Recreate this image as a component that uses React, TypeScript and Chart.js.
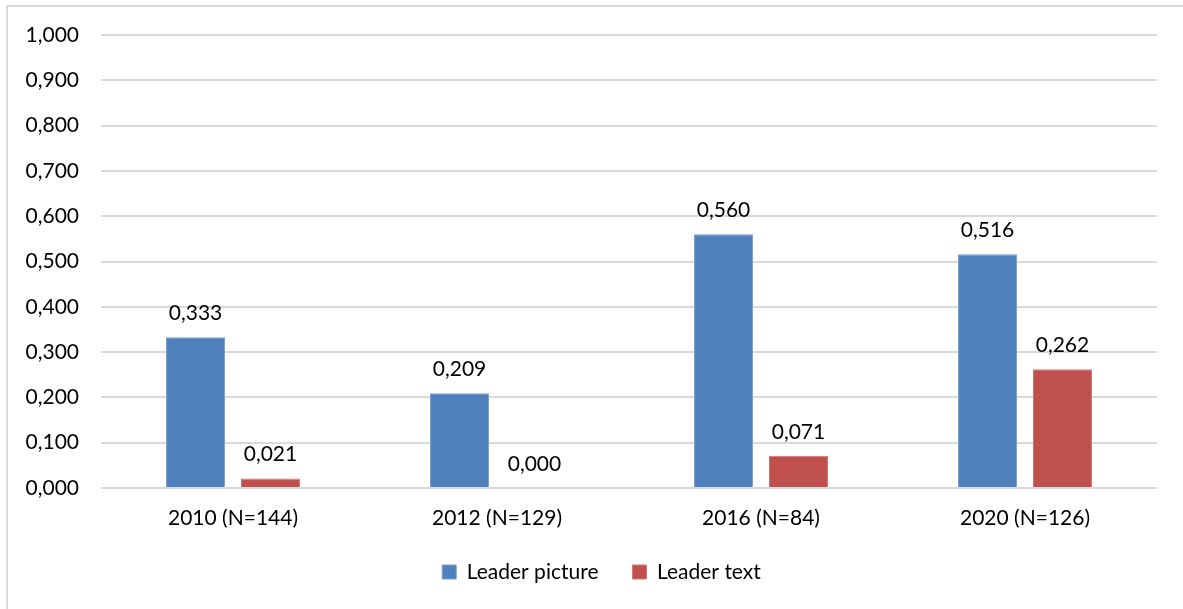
import React, { useEffect, useRef } from "react";
import { Chart, registerables } from "chart.js";

Chart.register(...registerables);

const categories = ["2010 (N=144)", "2012 (N=129)", "2016 (N=84)", "2020 (N=126)"];
const leaderPicture = [0.333, 0.209, 0.56, 0.516];
const leaderText = [0.021, 0.0, 0.071, 0.262];
const seriesNames = ["Leader picture", "Leader text"];

const FONT = "Lato";
const fmt = (v: number) => v.toFixed(3).replace(".", ",");

// Writes each bar's value just above it
const valueLabels = {
  id: "valueLabels",
  afterDatasetsDraw(chart: any) {
    const { ctx } = chart;
    ctx.save();
    ctx.font = `21px ${FONT}`;
    ctx.fillStyle = "#000";
    ctx.textAlign = "center";
    ctx.textBaseline = "alphabetic";
    chart.data.datasets.forEach((ds: any, i: number) => {
      const meta = chart.getDatasetMeta(i);
      meta.data.forEach((bar: any, j: number) => {
        ctx.fillText(fmt(ds.data[j]), bar.x, bar.y - 17);
      });
    });
    ctx.restore();
  },
};

// White background and the light frame round the chart
const frame = {
  id: "frame",
  beforeDraw(chart: any) {
    const { ctx, width, height } = chart;
    ctx.save();
    ctx.fillStyle = "#fff";
    ctx.fillRect(0, 0, width, height);
    ctx.strokeStyle = "#d9d9d9";
    ctx.lineWidth = 2;
    ctx.strokeRect(7, 6, width + 20, height + 20);
    ctx.restore();
  },
};

// Nudges the legend a little to the right of the canvas centre
const legendShift = {
  id: "legendShift",
  afterLayout(chart: any) {
    const lg = chart.legend;
    if (lg) {
      lg.left += 19;
      lg.right += 19;
    }
  },
};

export default function App() {
  const ref = useRef<HTMLCanvasElement>(null);

  useEffect(() => {
    if (!ref.current) return;
    const chart = new Chart(ref.current, {
      type: "bar",
      data: {
        labels: categories,
        datasets: [
          {
            label: seriesNames[0],
            data: leaderPicture,
            backgroundColor: "#4F81BD",
            borderColor: "#7aa0d0",
            borderWidth: 1,
            categoryPercentage: 0.568,
            barPercentage: 0.787,
          },
          {
            label: seriesNames[1],
            data: leaderText,
            backgroundColor: "#C0504D",
            borderColor: "#d27775",
            borderWidth: 1,
            categoryPercentage: 0.568,
            barPercentage: 0.787,
          },
        ],
      },
      options: {
        animation: false,
        responsive: false,
        layout: { padding: { left: 8, right: 26, top: 35, bottom: 16.5 } },
        plugins: {
          tooltip: { enabled: false },
          legend: {
            position: "bottom",
            labels: {
              boxWidth: 14,
              boxHeight: 14,
              padding: 34,
              color: "#000",
              font: { family: FONT, size: 21 },
            },
          },
        },
        scales: {
          x: {
            grid: { display: false, drawTicks: false },
            border: { display: false },
            ticks: { color: "#000", padding: 18, font: { family: FONT, size: 21 } },
            afterFit: (s: any) => {
              s.height = 39.5;
            },
          },
          y: {
            min: 0,
            max: 1,
            grid: { color: "#d9d9d9", lineWidth: 2, drawTicks: false },
            border: { display: false },
            ticks: {
              stepSize: 0.1,
              padding: 22,
              color: "#000",
              font: { family: FONT, size: 21 },
              callback: (v: any) => fmt(Number(v)),
            },
            afterFit: (s: any) => {
              s.width = 93;
            },
          },
        },
      },
      plugins: [frame, valueLabels, legendShift],
    });
    return () => chart.destroy();
  }, []);

  return (
    <div style={{ position: "absolute", left: 0, top: 0, width: 1183, height: 609 }}>
      <canvas ref={ref} width={1183} height={609} style={{ display: "block" }} />
    </div>
  );
}
